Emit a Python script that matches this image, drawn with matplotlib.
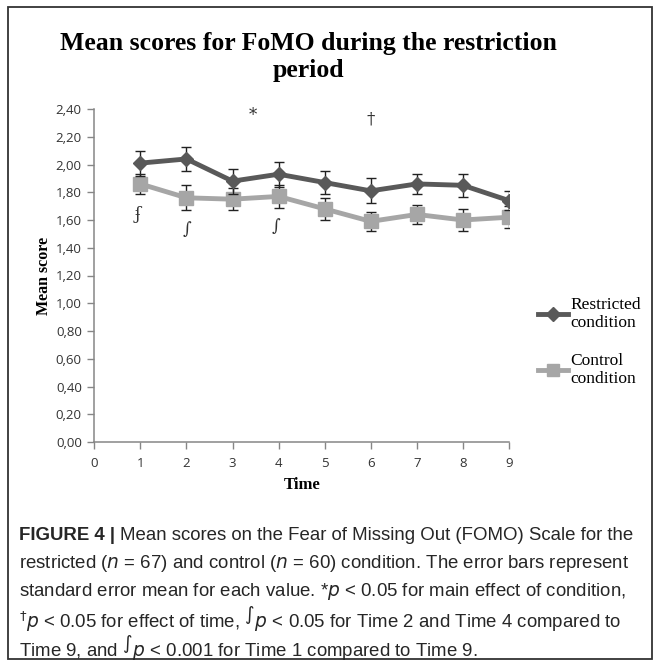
import matplotlib.pyplot as plt
import matplotlib.patches as mpatches
from matplotlib.lines import Line2D

# ------------------------------------------------------------
# Dados
# ------------------------------------------------------------
tempo = [1, 2, 3, 4, 5, 6, 7, 8, 9]
restrito = [2.01, 2.04, 1.88, 1.93, 1.87, 1.81, 1.86, 1.85, 1.74]
restrito_ep = [0.09, 0.085, 0.09, 0.09, 0.08, 0.09, 0.07, 0.085, 0.07]
controle = [1.86, 1.76, 1.75, 1.77, 1.68, 1.59, 1.64, 1.60, 1.62]
controle_ep = [0.07, 0.09, 0.08, 0.08, 0.08, 0.07, 0.07, 0.08, 0.08]

y_ticks = [0.0, 0.2, 0.4, 0.6, 0.8, 1.0, 1.2, 1.4, 1.6, 1.8, 2.0, 2.2, 2.4]
x_ticks = [0, 1, 2, 3, 4, 5, 6, 7, 8, 9]

# marcas de significância (símbolo, x, y)
marcas = [("*", 3.45, 2.35), ("\u2020", 6.0, 2.33),
          ("\u0284", 0.95, 1.64), ("\u222b", 2.0, 1.53), ("\u222b", 3.95, 1.55)]

titulo = "Mean scores for FoMO during the restriction\nperiod"
legenda = ["Restricted\ncondition", "Control\ncondition"]

cor_escura = "#595959"
cor_clara = "#a6a6a6"
cor_eixo = "#868686"

W, H = 659, 664
fig = plt.figure(figsize=(W / 100, H / 100), dpi=100)

# moldura em volta de tudo
fig.patches.append(mpatches.Rectangle((8 / W, 5 / H), 644 / W, 652 / H,
                                      transform=fig.transFigure, fill=False,
                                      edgecolor="#333333", linewidth=1.3))

ax = fig.add_axes([94.3 / W, (H - 442) / H, 414.7 / W, 333 / H])

ax.errorbar(tempo, controle, yerr=controle_ep, color=cor_clara, lw=3.5,
            marker="s", ms=10, mec=cor_clara, mfc=cor_clara,
            ecolor="#222222", elinewidth=1.0, capsize=3.5, capthick=1.0, zorder=3)
ax.errorbar(tempo, restrito, yerr=restrito_ep, color=cor_escura, lw=3.5,
            marker="D", ms=7.5, mec=cor_escura, mfc=cor_escura,
            ecolor="#222222", elinewidth=1.0, capsize=3.5, capthick=1.0, zorder=4)

ax.set_xlim(0, 9)
ax.set_ylim(0, 2.4)
ax.set_xticks(x_ticks)
ax.set_xticklabels([str(t) for t in x_ticks])
ax.set_yticks(y_ticks)
ax.set_yticklabels([f"{v:.2f}".replace(".", ",") for v in y_ticks])
ax.tick_params(colors=cor_eixo, labelcolor="#333333", labelsize=9.5,
               length=5, width=1, direction="out")
for lbl in ax.get_xticklabels() + ax.get_yticklabels():
    lbl.set_fontfamily("Open Sans")
ax.tick_params(axis="x", pad=6)
ax.tick_params(axis="y", pad=4)

for lado in ["top", "right"]:
    ax.spines[lado].set_visible(False)
for lado in ["left", "bottom"]:
    ax.spines[lado].set_color(cor_eixo)
    ax.spines[lado].set_linewidth(1.1)

ax.set_xlabel("Time", fontfamily="Liberation Serif", fontweight="bold",
              fontsize=12, labelpad=5)
ax.set_ylabel("Mean score", fontfamily="Liberation Serif", fontweight="bold",
              fontsize=11.5, labelpad=3)

for simbolo, x, y in marcas:
    ax.text(x, y, simbolo, ha="center", va="center", fontsize=12,
            fontfamily=["DejaVu Serif"], color="#333333", clip_on=False)

fig.text(308 / W, 1 - 57 / H, titulo, ha="center", va="center",
         fontfamily="Liberation Serif", fontweight="bold", fontsize=18.5,
         linespacing=1.25)

alcas = [Line2D([], [], color=cor_escura, lw=3.5, marker="D", ms=7.5),
         Line2D([], [], color=cor_clara, lw=3.5, marker="s", ms=9)]
fig.legend(alcas, legenda, loc="upper left",
           bbox_to_anchor=(522 / W, 1 - 281 / H), frameon=False,
           prop={"family": "Liberation Serif", "size": 12.5},
           handlelength=1.75, handletextpad=0.12, labelspacing=1.25)

# legenda da figura
linhas = [
    "Mean scores on the Fear of Missing Out (FOMO) Scale for the",
    "restricted ($\\it{n}$ = 67) and control ($\\it{n}$ = 60) condition. The error bars represent",
    "standard error mean for each value. *$\\it{p}$ < 0.05 for main effect of condition,",
    "$^{\u2020}$$\\it{p}$ < 0.05 for effect of time, $^{\u222b}$$\\it{p}$ < 0.05 for Time 2 and Time 4 compared to",
    "Time 9, and $^{\u222b}$$\\it{p}$ < 0.001 for Time 1 compared to Time 9.",
]
y0 = 535
fonte_cap = {"family": "Liberation Sans", "size": 13.4, "color": "#262626"}
t = fig.text(19 / W, 1 - y0 / H, "FIGURE 4 | ", ha="left", va="center",
             fontweight="bold", **fonte_cap)
fig.canvas.draw()
bb = t.get_window_extent()
fig.text(bb.x1 / W, 1 - y0 / H, linhas[0], ha="left", va="center", **fonte_cap)
for i, linha in enumerate(linhas[1:], start=1):
    fig.text(19 / W, 1 - (y0 + 28.2 * i) / H, linha, ha="left", va="center",
             **fonte_cap)

fig.savefig("out.png", dpi=100)
